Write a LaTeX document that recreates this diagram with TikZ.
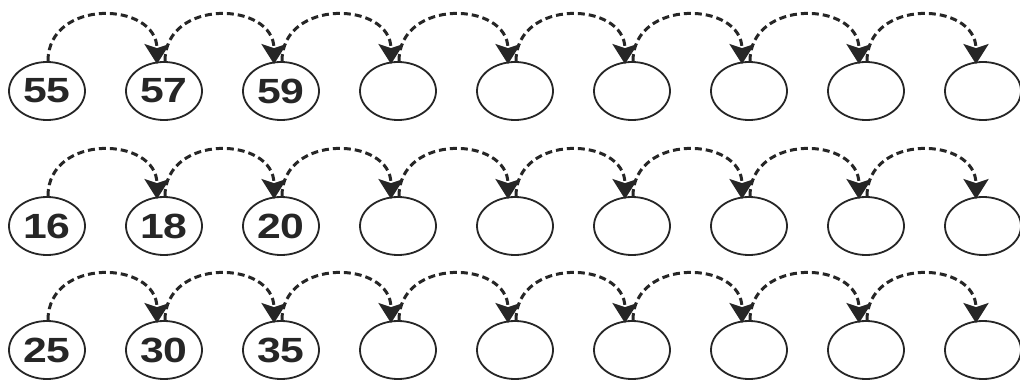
\documentclass[tikz,border=0pt]{standalone}
\usepackage{fontspec}
\usepackage{graphicx}
\setmainfont{Liberation Sans}
\usetikzlibrary{arrows.meta,calc,shapes.geometric}
\tikzset{
  bubble/.style={draw=black!85, line width=1.8pt, ellipse, minimum width=76pt, minimum height=58pt, inner sep=0pt,
     font=\fontsize{35}{35}\selectfont\bfseries, text=black!85},
  hop/.style={draw=black!85, line width=3pt, dash pattern=on 7pt off 4pt,
     -{Stealth[width=25pt,length=20pt,inset=4pt,fill=black!85]}},
}
\newcommand{\wide}[1]{\scalebox{1.22}[1]{#1}}
\begin{document}
\begin{tikzpicture}[x=1pt,y=-1pt]
\useasboundingbox (0,0) rectangle (1020,383);
\foreach \r/\y/\a/\b/\c in {1/91/55/57/59, 2/226/16/18/20, 3/350/25/30/35}{
  \node[bubble] (e\r-1) at (47,\y) {\wide{\a}};
  \node[bubble] (e\r-2) at (164,\y) {\wide{\b}};
  \node[bubble] (e\r-3) at (281,\y) {\wide{\c}};
  \foreach \k in {4,...,9}{
    \node[bubble] (e\r-\k) at ({47+117*(\k-1)},\y) {};
  }
  \foreach \k [evaluate=\k as \n using int(\k+1)] in {1,...,8}{
    \draw[hop] ($(e\r-\k.north)+(1,0)$) .. controls +(0,-63) and +(0,-63) .. ($(e\r-\n.north)+(-7,3)$);
  }
}
\end{tikzpicture}
\end{document}
